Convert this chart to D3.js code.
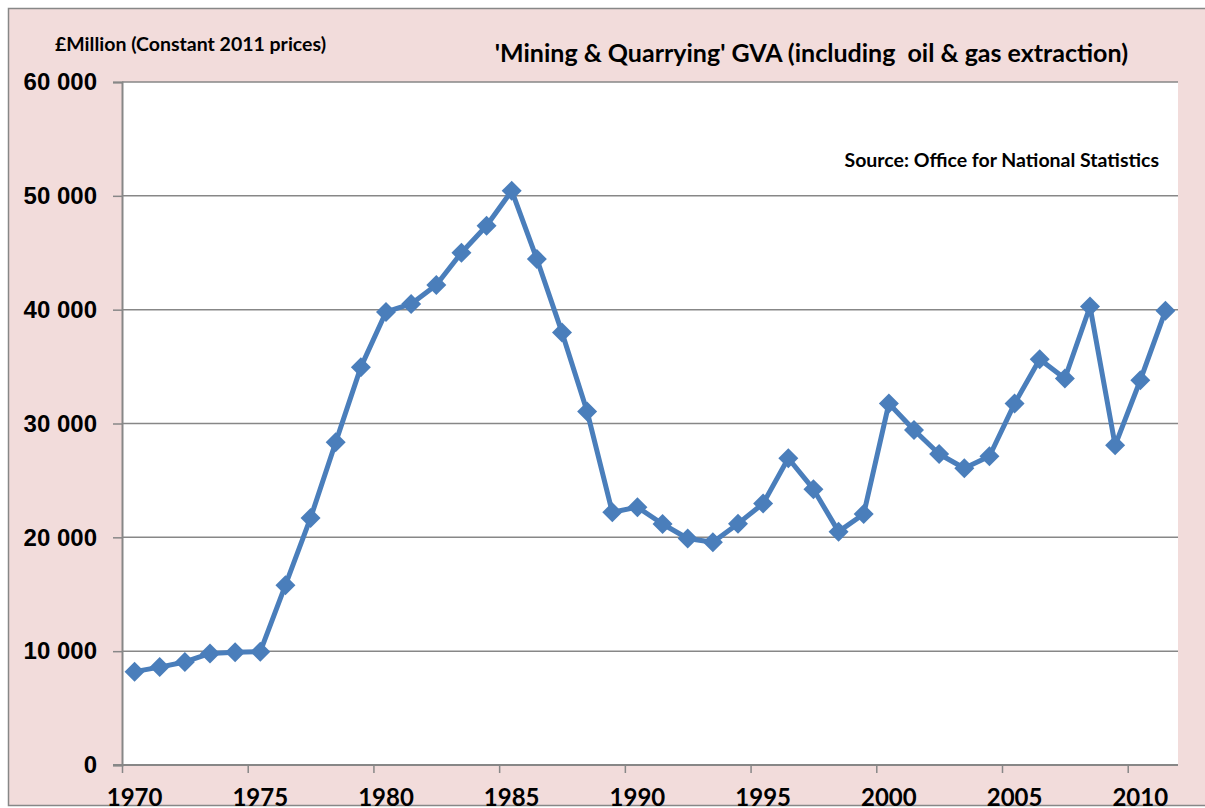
<!DOCTYPE html>
<html>
<head>
<meta charset="utf-8">
<script src="https://cdn.jsdelivr.net/npm/d3@7"></script>
<style>
  body { margin: 0; background: #fff; }
  svg { display: block; font-family: Lato, "Open Sans", sans-serif; font-weight: bold; }
  text { white-space: pre; }
</style>
</head>
<body>
<svg id="chart" width="1205" height="808"></svg>
<script>
const years = d3.range(1970, 2012);
const gva = [8200, 8600, 9050, 9800, 9900, 9950, 15800, 21700, 28350, 34950,
  39800, 40500, 42170, 45000, 47370, 50450, 44450, 38000, 31050, 22200,
  22650, 21170, 19900, 19570, 21200, 22970, 26950, 24230, 20500, 22050,
  31750, 29430, 27320, 26070, 27120, 31750, 35650, 33950, 40280, 28080,
  33800, 39900];
const yTicks = [0, 10000, 20000, 30000, 40000, 50000, 60000];
const xTicks = [1970, 1975, 1980, 1985, 1990, 1995, 2000, 2005, 2010];

const title = "'Mining & Quarrying' GVA (including  oil & gas extraction)";
const unitLabel = "£Million (Constant 2011 prices)";
const source = "Source: Office for National Statistics";

const W = 1205, H = 808;
const margin = { top: 82, right: 27, bottom: 43, left: 122 };
const grey = "#878787";
const blue = "#4a7ebb";

const svg = d3.select("#chart");

// outer chart area
svg.append("rect")
  .attr("x", 8.5).attr("y", 8.5)
  .attr("width", W).attr("height", 797)
  .attr("fill", "#f2dcdb")
  .attr("stroke", grey).attr("stroke-width", 1.5);

const x = d3.scaleLinear([1970, 2012], [margin.left, W - margin.right]);
const y = d3.scaleLinear([0, 60000], [H - margin.bottom, margin.top]);

// plot area
svg.append("rect")
  .attr("x", margin.left).attr("y", margin.top)
  .attr("width", x.range()[1] - margin.left)
  .attr("height", y.range()[0] - margin.top)
  .attr("fill", "#fff");

// gridlines
svg.append("g")
  .selectAll("line")
  .data(yTicks.slice(1))
  .join("line")
    .attr("x1", margin.left).attr("x2", x.range()[1])
    .attr("y1", d => y(d)).attr("y2", d => y(d))
    .attr("stroke", grey).attr("stroke-width", 1.5);

// y axis
const yAxis = svg.append("g")
  .attr("transform", `translate(${margin.left},0)`)
  .call(d3.axisLeft(y).tickValues(yTicks).tickSize(9).tickPadding(16)
    .tickFormat(d => d3.format(",")(d).replace(/,/g, " ")));
yAxis.select(".domain").attr("stroke", grey).attr("stroke-width", 2);
yAxis.selectAll(".tick line").attr("stroke", grey).attr("stroke-width", 1.5);
yAxis.selectAll(".tick text")
  .attr("fill", "#000").attr("font-size", 24).attr("font-family", null);

// x axis
const xAxis = svg.append("g")
  .attr("transform", `translate(0,${y(0)})`)
  .call(d3.axisBottom(x).tickValues(xTicks).tickSize(8).tickFormat(""));
xAxis.select(".domain").attr("stroke", grey).attr("stroke-width", 2)
  .attr("d", `M${margin.left - 9},0H${x.range()[1]}`);
xAxis.selectAll(".tick line").attr("stroke", grey).attr("stroke-width", 1.5);

svg.append("g")
  .selectAll("text")
  .data(xTicks)
  .join("text")
    .attr("x", d => x(d + 0.5))
    .attr("y", 806)
    .attr("text-anchor", "middle")
    .attr("font-size", 24)
    .text(d => d);

// series line
const line = d3.line()
  .x((d, i) => x(years[i] + 0.5))
  .y(d => y(d));

svg.append("path")
  .datum(gva)
  .attr("fill", "none")
  .attr("stroke", blue)
  .attr("stroke-width", 5)
  .attr("stroke-linejoin", "round")
  .attr("d", line);

// diamond markers
const diamond = d3.symbol(d3.symbolSquare, 200);
svg.append("g")
  .selectAll("path")
  .data(gva)
  .join("path")
    .attr("transform", (d, i) => `translate(${x(years[i] + 0.5)},${y(d)}) rotate(45)`)
    .attr("d", diamond)
    .attr("fill", blue);

// texts
svg.append("text")
  .attr("x", 55).attr("y", 51)
  .attr("font-size", 19.5)
  .text(unitLabel);

svg.append("text")
  .attr("x", 1128).attr("y", 62)
  .attr("text-anchor", "end")
  .attr("font-size", 25)
  .text(title);

svg.append("text")
  .attr("x", 1159).attr("y", 167)
  .attr("text-anchor", "end")
  .attr("font-size", 19.5)
  .text(source);
</script>
</body>
</html>
